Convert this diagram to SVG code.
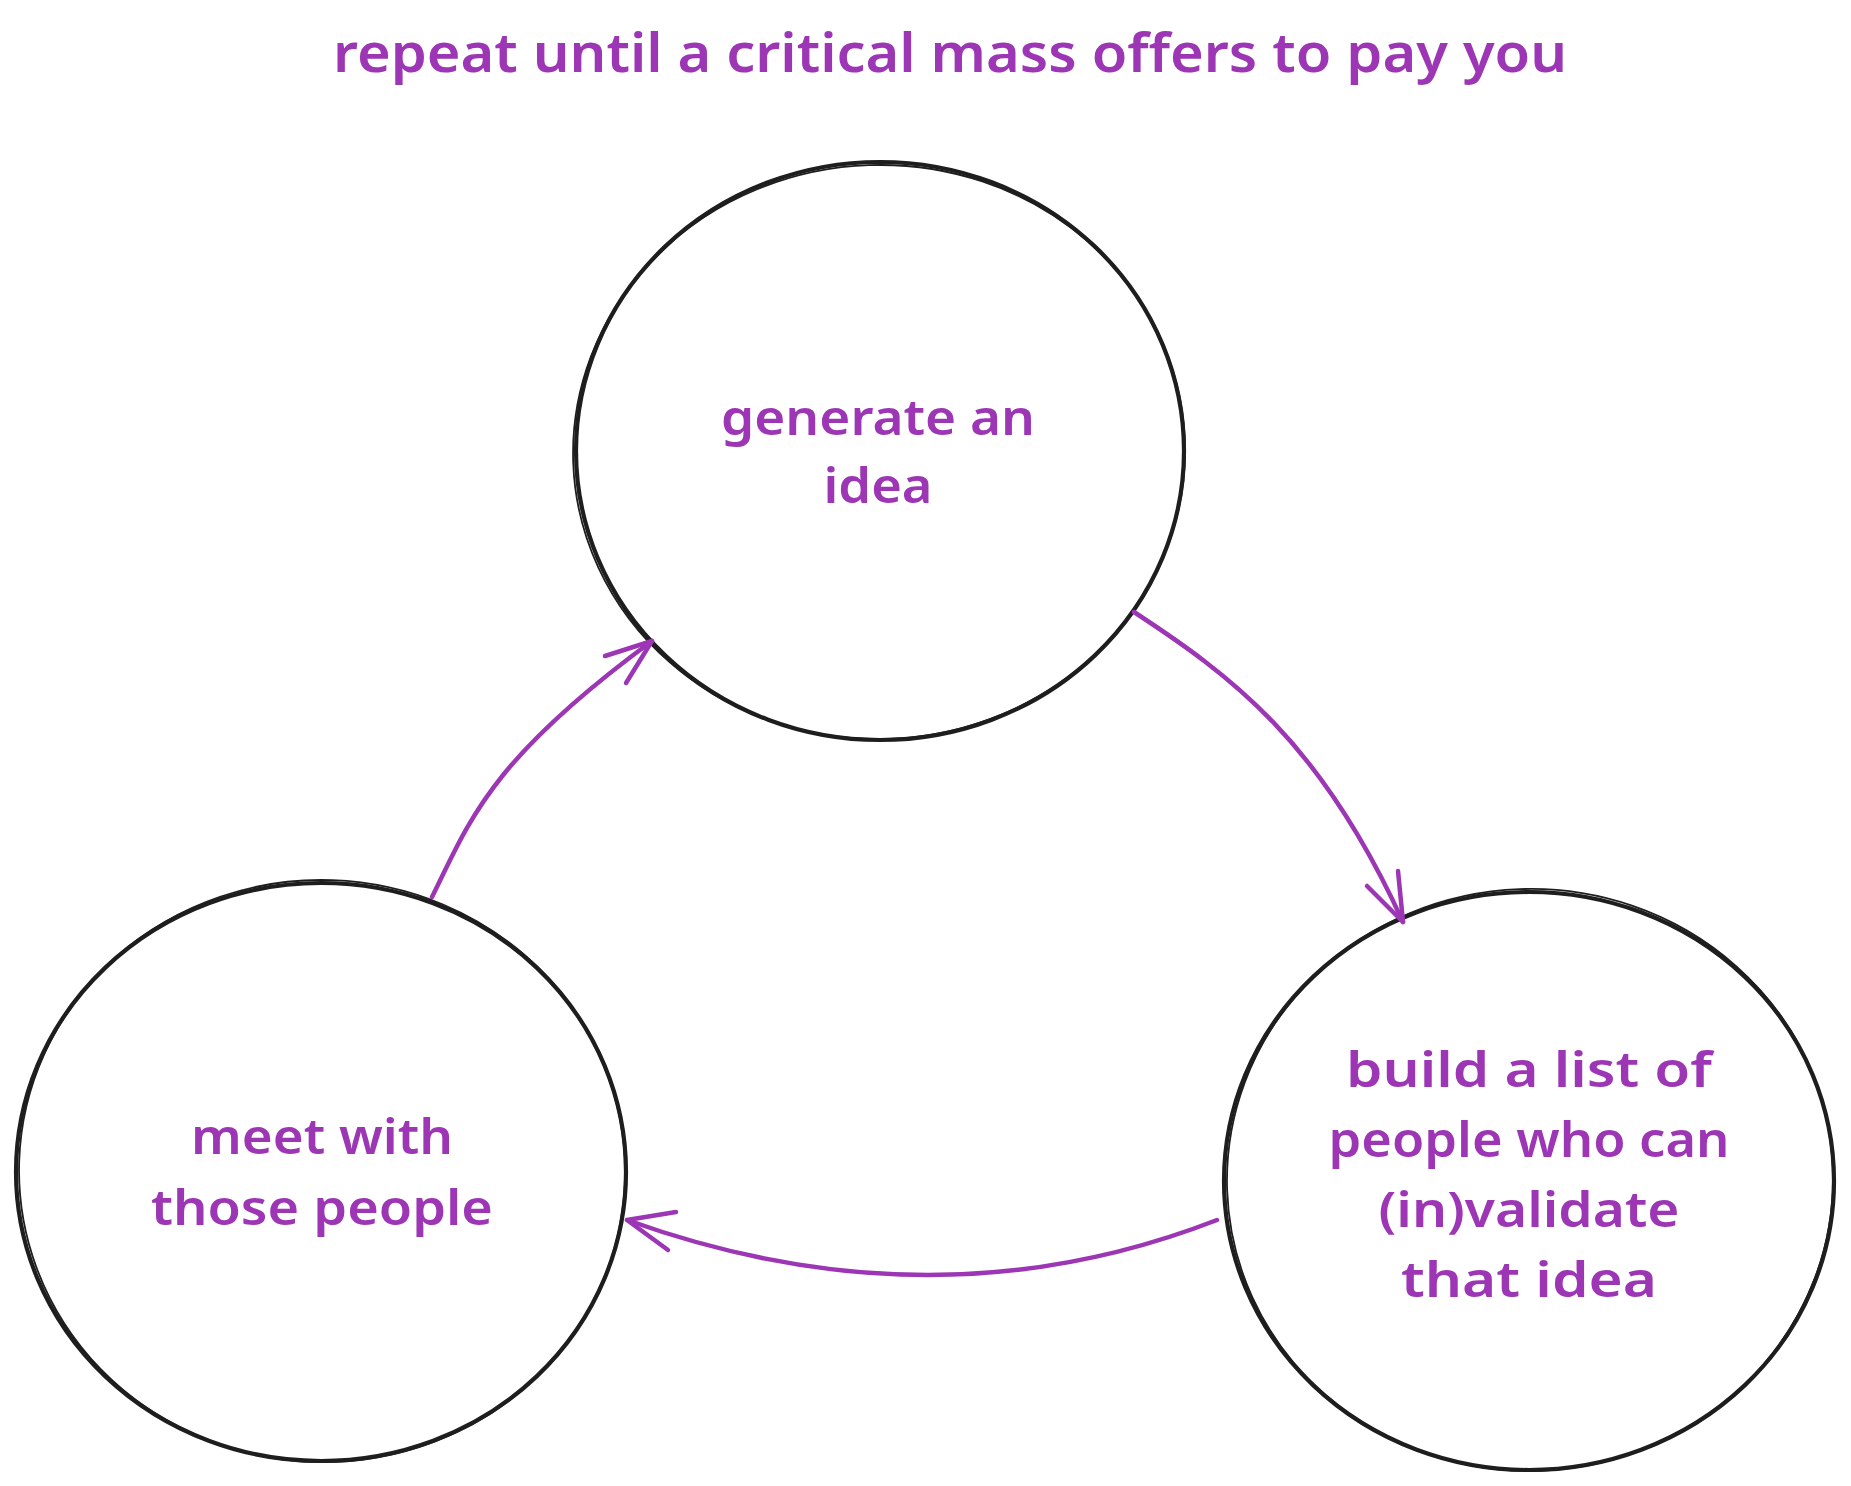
<svg xmlns="http://www.w3.org/2000/svg" width="1851" height="1486" viewBox="0 0 1851 1486">
<style>
.bg{fill:#ffffff}
.circ{fill:none;stroke:#1e1e1e;stroke-width:4.2;stroke-linecap:round}
.circ2{fill:none;stroke:#1e1e1e;stroke-width:1.8;stroke-linecap:round}
.lbl{fill:#9c36b5;font-family:"Noto Sans","DejaVu Sans",sans-serif;font-size:49px;font-weight:600;text-anchor:middle}
.title{fill:#9c36b5;font-family:"Noto Sans","DejaVu Sans",sans-serif;font-size:54px;font-weight:600;text-anchor:middle}
.conn{fill:none;stroke:#9c36b5;stroke-width:4.5;stroke-linecap:round;stroke-linejoin:round}
</style>
<rect class="bg" x="0" y="0" width="1851" height="1486"/>
<text id="title" class="title" x="950" y="72" textLength="1234" lengthAdjust="spacingAndGlyphs">repeat until a critical mass offers to pay you</text>
<g id="node-generate">
<ellipse class="circ" cx="880" cy="451" rx="304" ry="289"/>
<ellipse class="circ2" cx="879" cy="452" rx="306" ry="287" transform="rotate(-2 880 451)"/>
<text class="lbl" x="878" y="435" textLength="314" lengthAdjust="spacingAndGlyphs">generate an</text>
<text class="lbl" x="878" y="503" textLength="109" lengthAdjust="spacingAndGlyphs">idea</text>
</g>
<g id="node-meet">
<ellipse class="circ" cx="321" cy="1172" rx="305" ry="289"/>
<ellipse class="circ2" cx="322" cy="1171" rx="303" ry="291" transform="rotate(2 321 1172)"/>
<text class="lbl" x="322" y="1154" textLength="262" lengthAdjust="spacingAndGlyphs">meet with</text>
<text class="lbl" x="322" y="1225" textLength="342" lengthAdjust="spacingAndGlyphs">those people</text>
</g>
<g id="node-build">
<ellipse class="circ" cx="1529" cy="1181" rx="305" ry="289"/>
<ellipse class="circ2" cx="1530" cy="1180" rx="303" ry="291" transform="rotate(-2 1529 1181)"/>
<text class="lbl" x="1529" y="1087" textLength="366" lengthAdjust="spacingAndGlyphs">build a list of</text>
<text class="lbl" x="1529" y="1157" textLength="401" lengthAdjust="spacingAndGlyphs">people who can</text>
<text class="lbl" x="1529" y="1227" textLength="301" lengthAdjust="spacingAndGlyphs">(in)validate</text>
<text class="lbl" x="1529" y="1297" textLength="256" lengthAdjust="spacingAndGlyphs">that idea</text>
</g>
<g id="connectors">
<path class="conn" d="M 432 897 C 470 820, 490 760, 652 641"/>
<polyline class="conn" points="605,656 652,641 626,683"/>
<path class="conn" d="M 1134 612 C 1230 675, 1320 740, 1403 922"/>
<polyline class="conn" points="1367,886 1403,922 1398,871"/>
<path class="conn" d="M 1217 1220 Q 934 1330 627 1220"/>
<polyline class="conn" points="676,1212 627,1220 668,1250"/>
</g>
</svg>
